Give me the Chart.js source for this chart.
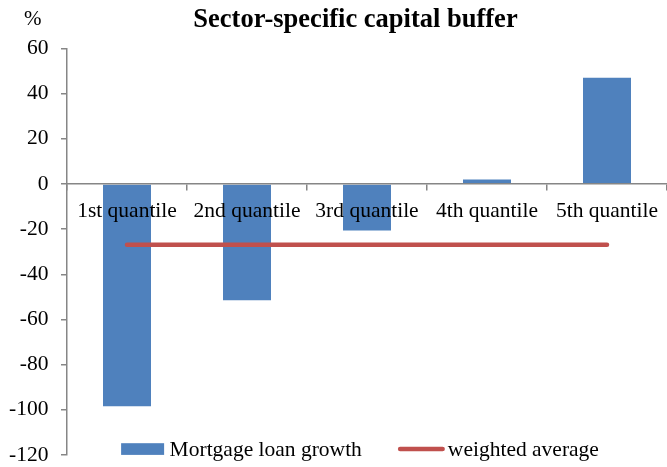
<!DOCTYPE html>
<html>
<head>
<meta charset="utf-8">
<script src="https://cdn.jsdelivr.net/npm/chart.js@4/dist/chart.umd.min.js"></script>
<style>
  html, body { margin: 0; padding: 0; background: #fff; }
  #wrap { position: relative; width: 667px; height: 467px; }
</style>
</head>
<body>
<div id="wrap"><canvas id="c" width="667" height="467"></canvas></div>
<script>
const categories = ['1st quantile', '2nd quantile', '3rd quantile', '4th quantile', '5th quantile'];
const mortgageLoanGrowth = [-98.4, -51.5, -20.6, 2.0, 47.0];
const weightedAverage = [-26.9, -26.9, -26.9, -26.9, -26.9];
const seriesNames = ['Mortgage loan growth', 'weighted average'];
const titleText = 'Sector-specific capital buffer';
const unitText = '%';
const yMin = -120, yMax = 60, yStep = 20;

const SERIF = '"Liberation Serif", "Times New Roman", serif';
const BLUE = '#4F81BD';
const RED = '#C0504D';
const AXIS = '#868686';

const overlayPlugin = {
  id: 'overlay',
  afterDraw(chart) {
    const ctx = chart.ctx;
    const ca = chart.chartArea;
    ctx.save();
    // title
    ctx.fillStyle = '#000';
    ctx.textBaseline = 'alphabetic';
    ctx.textAlign = 'center';
    ctx.font = 'bold 26.5px ' + SERIF;
    ctx.fillText(titleText, 355.5, 26.5);
    // unit
    ctx.textAlign = 'left';
    ctx.font = '21px ' + SERIF;
    ctx.fillText(unitText, 24, 25);
    // legend
    const ds = chart.data.datasets;
    ctx.font = '21.5px ' + SERIF;
    const w1 = ctx.measureText(ds[0].label).width;
    const w2 = ctx.measureText(ds[1].label).width;
    const boxW = 43, gap1 = 5.5, itemGap = 36, lineW = 47, gap2 = 3;
    const total = boxW + gap1 + w1 + itemGap + lineW + gap2 + w2;
    const cx = ca.left + ca.width / 2 - 7;
    let x = cx - total / 2;
    const cy = ca.bottom - 6;
    ctx.fillStyle = ds[0].backgroundColor;
    ctx.fillRect(x, cy - 5.8, boxW, 11.7);
    x += boxW + gap1;
    ctx.fillStyle = '#000';
    ctx.textBaseline = 'middle';
    ctx.fillText(ds[0].label, x, cy + 1);
    x += w1 + itemGap;
    ctx.strokeStyle = ds[1].borderColor;
    ctx.lineWidth = 4.5;
    ctx.lineCap = 'round';
    ctx.beginPath();
    ctx.moveTo(x + 2.25, cy);
    ctx.lineTo(x + lineW - 2.25, cy);
    ctx.stroke();
    x += lineW + gap2;
    ctx.fillText(ds[1].label, x, cy + 1);
    ctx.restore();
  }
};

new Chart(document.getElementById('c'), {
  data: {
    labels: categories,
    datasets: [
      {
        type: 'bar',
        label: seriesNames[0],
        data: mortgageLoanGrowth,
        backgroundColor: BLUE,
        borderWidth: 0,
        barPercentage: 0.4,
        categoryPercentage: 1.0,
        order: 2
      },
      {
        type: 'line',
        label: seriesNames[1],
        data: weightedAverage,
        borderColor: RED,
        backgroundColor: RED,
        borderWidth: 4.5,
        borderCapStyle: 'round',
        pointRadius: 0,
        pointHoverRadius: 0,
        fill: false,
        tension: 0,
        order: 1
      }
    ]
  },
  options: {
    responsive: false,
    animation: false,
    events: [],
    layout: { padding: { top: 48.5, bottom: 12, left: 0, right: 0 } },
    plugins: {
      legend: { display: false },
      title: { display: false },
      tooltip: { enabled: false }
    },
    scales: {
      x: {
        type: 'category',
        position: { y: 0 },
        offset: true,
        afterFit: (s) => { s.height = 0; s.paddingLeft = 0; s.paddingRight = 0; },
        grid: {
          offset: true,
          drawOnChartArea: false,
          drawTicks: true,
          tickLength: 6,
          color: AXIS,
          lineWidth: 1.5
        },
        border: { display: true, color: AXIS, width: 1.5, z: 1 },
        ticks: {
          z: 1,
          color: '#000',
          font: { family: SERIF, size: 21.5 },
          padding: 8,
          maxRotation: 0,
          autoSkip: false
        }
      },
      y: {
        type: 'linear',
        min: yMin,
        max: yMax,
        afterFit: (s) => { s.width = 67; s.paddingTop = 0; s.paddingBottom = 0; },
        grid: {
          drawOnChartArea: false,
          drawTicks: true,
          tickLength: 6,
          color: AXIS,
          lineWidth: 1.5
        },
        border: { display: true, color: AXIS, width: 1.5 },
        ticks: {
          stepSize: yStep,
          color: '#000',
          font: { family: SERIF, size: 21.5 },
          padding: 12.5
        }
      }
    }
  },
  plugins: [overlayPlugin]
});
</script>
</body>
</html>
